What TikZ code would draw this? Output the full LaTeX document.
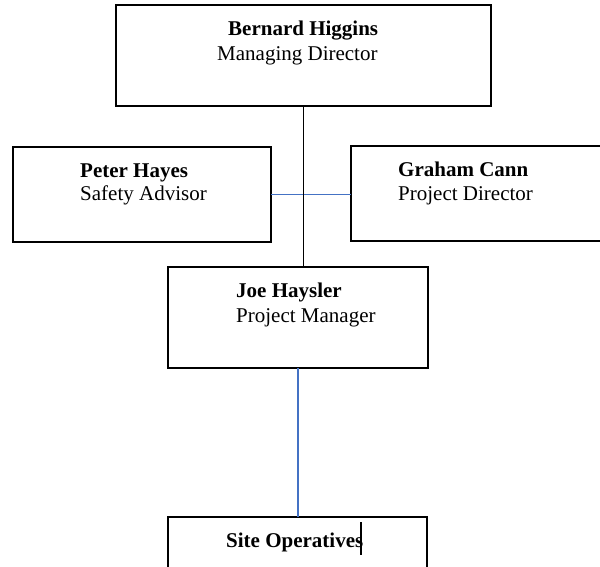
\documentclass[tikz,border=0pt]{standalone}
\usepackage{fontspec}
\setmainfont{Liberation Serif}
\definecolor{connblue}{RGB}{68,114,196}
\begin{document}
\begin{tikzpicture}[x=1pt,y=-1pt,
  box/.style={draw=black,line width=1.8pt,rectangle,inner sep=0pt,outer sep=0pt},
  lbl/.style={inner sep=0pt,anchor=base west,font=\fontsize{21}{24.5}\selectfont},
  bluecon/.style={draw=connblue,line width=1.8pt},
  blackcon/.style={draw=black,line width=1.8pt}]
\useasboundingbox[fill=white] (0,0) rectangle (600,566);
% boxes
\node[box,minimum width=375pt,minimum height=101pt] (top) at (303.5,55.5) {};
\node[box,minimum width=258pt,minimum height=95pt] (peter) at (142,194.5) {};
\node[box,minimum width=269pt,minimum height=95pt] (graham) at (485.5,193.5) {};
\node[box,minimum width=260pt,minimum height=101pt] (joe) at (298,317.5) {};
\node[box,minimum width=259pt,minimum height=83pt] (site) at (297.5,558.5) {};
% texts
\node[lbl] (bhname) at (228,35) {\bfseries Bernard Higgins};
\node[lbl] (bhrole) at (217,60) {Managing Director};
\node[lbl] (phname) at (80,177) {\bfseries Peter Hayes};
\node[lbl] (phrole) at (80,200) {Safety Advisor};
\node[lbl] (gcname) at (398,176) {\bfseries Graham Cann};
\node[lbl] (gcrole) at (398,200) {Project Director};
\node[lbl] (jhname) at (236,297) {\bfseries Joe Haysler};
\node[lbl] (jhrole) at (236,322) {Project Manager};
\node[lbl] (soname) at (226,547) {\bfseries Site Operatives};
% connectors
\draw[bluecon] (peter.east) -- (peter.east -| graham.west);
\draw[bluecon] (joe.south) -- (site.north -| joe.south);
\draw[blackcon] (top.south) -- (joe.north -| top.south);
% text cursor
\coordinate (curtop) at (361,522);
\coordinate (curbot) at (361,555);
\draw[black,line width=1.4pt] (curtop) -- (curbot);
\end{tikzpicture}
\end{document}
